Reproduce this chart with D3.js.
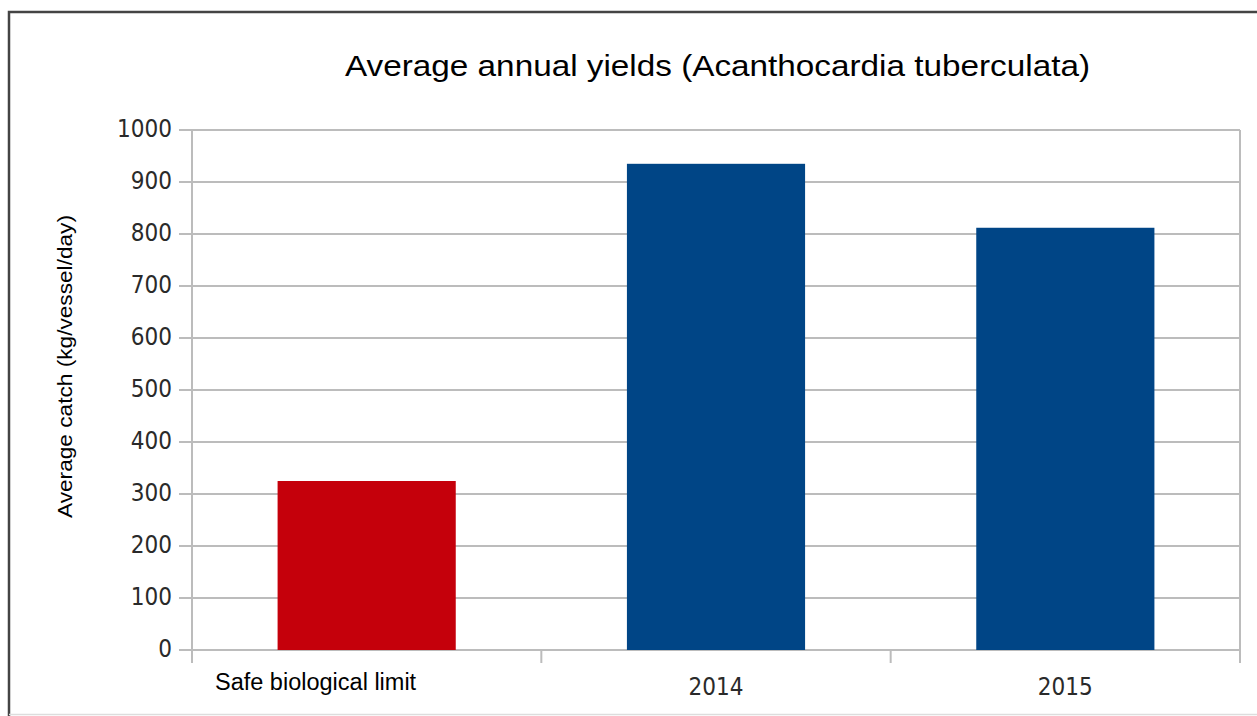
<!DOCTYPE html>
<html><head><meta charset="utf-8">
<script src="https://cdn.jsdelivr.net/npm/d3@7"></script>
<style>html,body{margin:0;padding:0;background:#fff;}</style>
</head><body>
<svg id="c" width="1257" height="716"></svg>
<script>
const categories = ["Safe biological limit", "2014", "2015"];
const values = [325, 935, 812];
const barColors = ["#c5000b", "#004586", "#004586"];
const yTicks = [0,100,200,300,400,500,600,700,800,900,1000];
const title = "Average annual yields (Acanthocardia tuberculata)";
const yTitle = "Average catch (kg/vessel/day)";

const svg = d3.select("#c");
// frame
svg.append("path").attr("d","M9,716 L9,12 L1257,12").attr("fill","none").attr("stroke","#444").attr("stroke-width",2.5);
svg.append("line").attr("x1",9).attr("x2",1257).attr("y1",714.5).attr("y2",714.5).attr("stroke","#ddd").attr("stroke-width",1.5);

const x = d3.scaleBand().domain(categories).range([192,1240]).paddingInner(0).paddingOuter(0);
const y = d3.scaleLinear().domain([0,1000]).range([650,130]);

// gridlines
svg.append("g").selectAll("line").data(yTicks).join("line")
  .attr("x1",179).attr("x2",1240).attr("y1",d=>y(d)).attr("y2",d=>y(d))
  .attr("stroke","#bcbcbc").attr("stroke-width",2);

// vertical axis lines
svg.append("line").attr("x1",192).attr("x2",192).attr("y1",130).attr("y2",663).attr("stroke","#bcbcbc").attr("stroke-width",2);
svg.append("line").attr("x1",1240).attr("x2",1240).attr("y1",130).attr("y2",663).attr("stroke","#bcbcbc").attr("stroke-width",2);
svg.append("g").selectAll("line").data(categories.slice(1)).join("line")
  .attr("x1",d=>x(d)).attr("x2",d=>x(d)).attr("y1",650).attr("y2",663)
  .attr("stroke","#bcbcbc").attr("stroke-width",2);

// bars
const bw = x.bandwidth()*0.51;
svg.append("g").selectAll("rect").data(values).join("rect")
  .attr("x",(d,i)=>x(categories[i])+x.bandwidth()/2-bw/2)
  .attr("width",bw)
  .attr("y",d=>y(d)).attr("height",d=>y(0)-y(d))
  .attr("fill",(d,i)=>barColors[i]);

// y tick labels
svg.append("g").selectAll("text").data(yTicks).join("text")
  .attr("x",172).attr("y",d=>y(d)).attr("dy","0.29em")
  .attr("text-anchor","end").attr("font-family","DejaVu Sans Condensed, DejaVu Sans, sans-serif")
  .attr("font-size",24).attr("fill","#2a2a2a").text(d=>d);

// x labels
svg.append("g").selectAll("text").data(categories).join("text")
  .attr("x",(d,i)=> i===0 ? 215 : x(d)+x.bandwidth()/2)
  .attr("y",(d,i)=> i===0 ? 690 : 695)
  .attr("text-anchor",(d,i)=> i===0 ? "start" : "middle")
  .attr("font-family",(d,i)=> i===0 ? "Liberation Sans, Arial, sans-serif" : "DejaVu Sans Condensed, DejaVu Sans, sans-serif")
  .attr("font-size",(d,i)=> i===0 ? 23.5 : 24)
  .attr("fill",(d,i)=> i===0 ? "#000" : "#2a2a2a").text(d=>d);

// title
svg.append("text").attr("x",717.5).attr("y",76).attr("text-anchor","middle")
  .attr("textLength",745).attr("lengthAdjust","spacingAndGlyphs")
  .attr("font-family","Liberation Sans, Arial, sans-serif").attr("font-size",29).attr("fill","#000").text(title);

// y title
svg.append("text").attr("transform","translate(72,366.5) rotate(-90)").attr("text-anchor","middle")
  .attr("textLength",303).attr("lengthAdjust","spacingAndGlyphs")
  .attr("font-family","Liberation Sans, Arial, sans-serif").attr("font-size",20).attr("fill","#000").text(yTitle);
</script>
</body></html>
